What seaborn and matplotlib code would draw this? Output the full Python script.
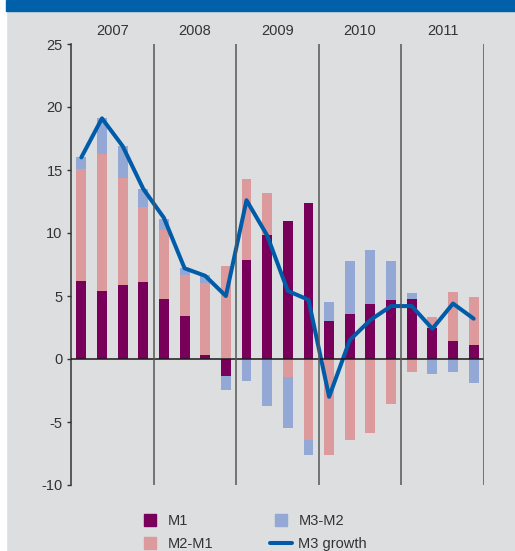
import numpy as np
import pandas as pd
import matplotlib
matplotlib.use('Agg')
import matplotlib.pyplot as plt
import seaborn as sns
from matplotlib.lines import Line2D
from matplotlib.patches import Rectangle

# Data (annual growth, % / percentage point contributions)
years = ['2007', '2008', '2009', '2010', '2011']
quarters = [f'{y[2:]}Q{q}' for y in years for q in range(1, 5)]
m1 = [6.2, 5.4, 5.9, 6.1, 4.8, 3.4, 0.35, -1.35, 7.85, 9.85,
      10.95, 12.4, 3.0, 3.6, 4.35, 4.65, 4.8, 2.5, 1.4, 1.1]
m2_m1 = [8.85, 10.9, 8.5, 6.0, 5.4, 3.25, 5.7, 7.4, 6.4, 3.3,
         -1.45, -6.4, -7.6, -6.4, -5.85, -3.55, -1.05, 0.85, 3.95, 3.8]
m3_m2 = [0.95, 2.8, 2.5, 1.4, 0.95, 0.6, 0.6, -1.1, -1.75, -3.7,
         -4.05, -1.2, 1.5, 4.15, 4.3, 3.1, 0.4, -1.2, -1.05, -1.9]
m3_growth = [16.0, 19.1, 16.9, 13.5, 11.2, 7.2, 6.6, 5.0, 12.6, 9.8,
             5.4, 4.7, -3.0, 1.5, 3.1, 4.2, 4.2, 2.4, 4.4, 3.2]

series = [('M1', m1, '#78005a'), ('M2-M1', m2_m1, '#dd9a9c'), ('M3-M2', m3_m2, '#93a8d4')]
line_color = '#005ca8'
bg = '#dcdee0'

df = pd.DataFrame({'quarter': quarters, 'pos': np.arange(len(quarters)), 'M3': m3_growth})

sns.set_theme(style='white')
plt.rcParams['font.family'] = ['Liberation Sans', 'DejaVu Sans']
plt.rcParams['axes.unicode_minus'] = False

fig = plt.figure(figsize=(5.15, 5.51), dpi=100, facecolor=bg)
ax = fig.add_axes([71 / 515, 1 - 485 / 551, 413 / 515, 441 / 551])
ax.set_facecolor(bg)

# stacked bars, positives stack up from zero, negatives stack down
pos_base = np.zeros(len(quarters))
neg_base = np.zeros(len(quarters))
for name, vals, col in series:
    vals = np.array(vals)
    bottom = np.where(vals >= 0, pos_base, neg_base)
    sns.barplot(data=df.assign(v=vals), x='quarter', y='v', order=quarters,
                bottom=bottom, color=col, saturation=1, width=0.48,
                linewidth=0, errorbar=None, ax=ax)
    pos_base = pos_base + np.clip(vals, 0, None)
    neg_base = neg_base + np.clip(vals, None, 0)

sns.lineplot(data=df, x='pos', y='M3', color=line_color, lw=2.9,
             solid_joinstyle='round', ax=ax)

ax.axhline(0, color='#1a1a1a', lw=1.1, zorder=3)
for i in range(1, len(years) + 1):
    ax.axvline(i * 4 - 0.5, color='#555555', lw=1.1, zorder=3)
for i, y in enumerate(years):
    ax.text(i * 4 + 1.5, 1.03, y, transform=ax.get_xaxis_transform(),
            ha='center', va='center', fontsize=10.5, color='#333333')

ax.set_xlim(-0.5, len(quarters) - 0.5)
ax.set_ylim(-10, 25)
ax.set_yticks(range(-10, 26, 5))
ax.set_xlabel('')
ax.set_ylabel('')
ax.tick_params(axis='x', bottom=False, labelbottom=False)
ax.tick_params(axis='y', left=True, length=3, width=1, color='#333333',
               labelsize=10.5, labelcolor='#333333', pad=3)
for s in ['top', 'right', 'bottom']:
    ax.spines[s].set_visible(False)
ax.spines['left'].set_color('#333333')
ax.spines['left'].set_linewidth(1.1)

handles = [
    Line2D([], [], ls='none', marker='s', ms=8, color=series[0][2]),
    Line2D([], [], ls='none', marker='s', ms=8, color=series[1][2]),
    Line2D([], [], ls='none', marker='s', ms=8, color=series[2][2]),
    Line2D([], [], color=line_color, lw=2.9, solid_capstyle='round'),
]
fig.legend(handles, ['M1', 'M2-M1', 'M3-M2', 'M3 growth'], ncol=2,
           loc='upper left', bbox_to_anchor=(139 / 515, 1 - 514 / 551),
           frameon=False, fontsize=10.5, handlelength=1.5, handletextpad=0.45,
           columnspacing=3.9, labelspacing=0.6, borderpad=0, borderaxespad=0,
           labelcolor='#333333')

# white left margin and blue header band
fig.add_artist(Rectangle((0, 0), 6 / 515, 1, transform=fig.transFigure,
                         color='white', zorder=0))
fig.add_artist(Rectangle((6 / 515, 1 - 11 / 551), 1, 11 / 551,
                         transform=fig.transFigure, color='#0060aa', zorder=0))

fig.savefig('out.png', dpi=100, facecolor=bg)
